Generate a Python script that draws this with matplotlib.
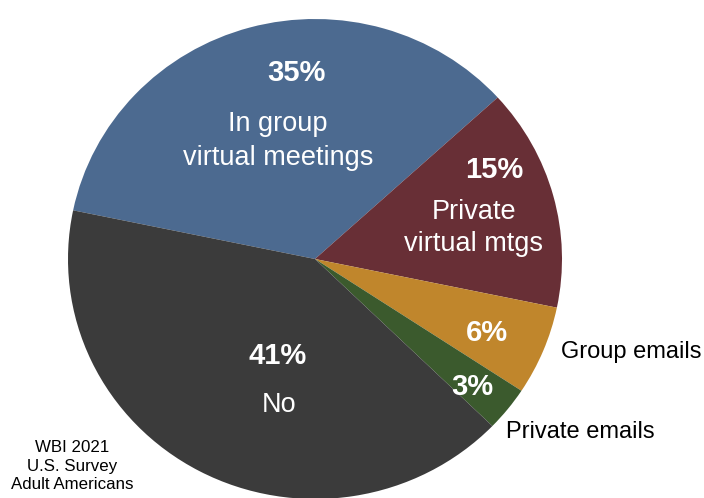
import matplotlib.pyplot as plt

# Survey shares, in drawing order (clockwise from the left edge)
labels = ['In group\nvirtual meetings', 'Private\nvirtual mtgs', 'Group emails', 'Private emails', 'No']
shares = [35, 15, 6, 3, 41]
colors = ['#4c6a90', '#682f36', '#c0862c', '#3b5a2d', '#3b3b3b']

plt.rcParams['font.family'] = ['Liberation Sans', 'DejaVu Sans']

W, H = 704, 498
k = 240 / 247  # squash the pie a little vertically

fig = plt.figure(figsize=(W / 100, H / 100), dpi=100)
ax = fig.add_axes([0, 0, 1, 1])

def px(x, y):
    # top-left pixel position -> data coords
    return x, (H - y) / k

cx, cy = px(315, 259)
ax.pie(shares, colors=colors, startangle=168.3, counterclock=False,
       center=(cx, cy), radius=247, wedgeprops=dict(linewidth=0))
ax.set_xlim(0, W)
ax.set_ylim(0, H / k)
ax.set_aspect('auto')
ax.axis('off')

pct_pos = [(296, 73), (494, 170), (487, 333), (472, 387), (278, 356)]
for (x, y), s in zip(pct_pos, shares):
    ax.text(*px(x, y), f'{s}%', color='white', fontsize=21, fontweight='bold',
            ha='center', va='center')

# category names inside the bigger slices
ax.text(*px(278, 141), labels[0], color='white', fontsize=19.5,
        ha='center', va='center', linespacing=1.4)
ax.text(*px(474, 228), labels[1], color='white', fontsize=19.5,
        ha='center', va='center', linespacing=1.3)
ax.text(*px(279, 405), labels[4], color='white', fontsize=19.5,
        ha='center', va='center')

# small slices get their names outside
ax.text(*px(561, 352), labels[2], color='black', fontsize=17,
        ha='left', va='center')
ax.text(*px(506, 432), labels[3], color='black', fontsize=17,
        ha='left', va='center')

ax.text(*px(72, 466), 'WBI 2021\nU.S. Survey\nAdult Americans', color='black',
        fontsize=12.2, ha='center', va='center', linespacing=1.3)

fig.savefig('out.png', dpi=100, facecolor='white')
